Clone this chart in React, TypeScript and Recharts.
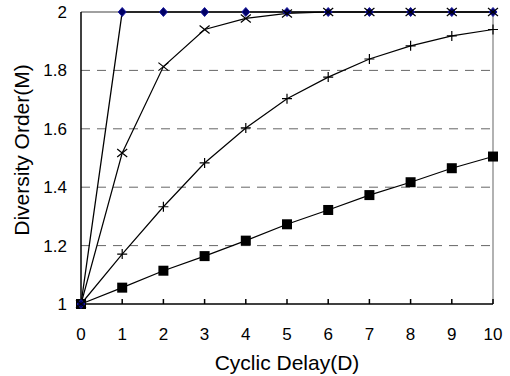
import { LineChart, Line, XAxis, YAxis, ReferenceLine, Label } from "recharts";

const delays = [0, 1, 2, 3, 4, 5, 6, 7, 8, 9, 10];
const diamondSeries = [1, 2, 2, 2, 2, 2, 2, 2, 2, 2, 2];
const crossSeries = [1, 1.517, 1.813, 1.94, 1.978, 1.995, 2, 2, 2, 2, 2];
const plusSeries = [1, 1.171, 1.333, 1.483, 1.603, 1.703, 1.777, 1.839, 1.884, 1.918, 1.94];
const squareSeries = [1, 1.056, 1.114, 1.164, 1.217, 1.273, 1.322, 1.373, 1.417, 1.465, 1.505];
const yTicks = [1, 1.2, 1.4, 1.6, 1.8, 2];
const gridValues = [1.2, 1.4, 1.6, 1.8];

const data = delays.map((d, i) => ({
  d,
  diamond: diamondSeries[i],
  cross: crossSeries[i],
  plus: plusSeries[i],
  square: squareSeries[i],
}));

const FONT = "'Liberation Sans', Arial, sans-serif";

const DiamondDot = ({ cx, cy }: any) => (
  <path d={`M${cx},${cy - 4.5} L${cx + 4},${cy} L${cx},${cy + 4.5} L${cx - 4},${cy} Z`} fill="#000066" stroke="#1a1aa0" strokeWidth={1} />
);

const CrossDot = ({ cx, cy }: any) => (
  <path d={`M${cx - 5},${cy - 4} L${cx + 5},${cy + 4} M${cx - 5},${cy + 4} L${cx + 5},${cy - 4}`} stroke="#000" strokeWidth={1.2} fill="none" />
);

const PlusDot = ({ cx, cy }: any) => (
  <path d={`M${cx - 5},${cy} L${cx + 5},${cy} M${cx},${cy - 5} L${cx},${cy + 5}`} stroke="#000" strokeWidth={1.2} fill="none" />
);

const SquareDot = ({ cx, cy }: any) => (
  <rect x={cx - 5} y={cy - 5} width={10} height={10} fill="#000" />
);

const YLabel = ({ viewBox }: any) => {
  const x = viewBox.x + 21;
  const y = viewBox.y + viewBox.height / 2 - 8;
  return (
    <text x={x} y={y} transform={`rotate(-90, ${x}, ${y})`} textAnchor="middle" dominantBaseline="central" fontFamily={FONT} fontSize={21} fill="#000">
      Diversity Order(M)
    </text>
  );
};

export default function App() {
  return (
    <div style={{ position: "absolute", left: 0, top: 0, background: "#fff" }}>
      <LineChart width={510} height={376} data={data} margin={{ top: 12, right: 17, left: 0, bottom: 0 }}>
        <XAxis
          dataKey="d"
          type="number"
          domain={[0, 10]}
          ticks={delays}
          height={72}
          stroke="#000"
          strokeWidth={1.5}
          tickSize={-5}
          tickMargin={29}
          tick={{ fill: "#000", fontSize: 17, fontFamily: FONT }}
        >
          <Label value="Cyclic Delay(D)" position="insideBottom" offset={6} style={{ fill: "#000", fontSize: 21, fontFamily: FONT }} />
        </XAxis>
        <YAxis
          type="number"
          domain={[1, 2]}
          ticks={yTicks}
          width={81}
          stroke="#000"
          strokeWidth={1.5}
          tickLine={false}
          tickMargin={8}
          tickFormatter={(v: number) => String(v)}
          tick={{ fill: "#000", fontSize: 17, fontFamily: FONT }}
        >
          <Label content={<YLabel />} />
        </YAxis>
        {gridValues.map((v) => (
          <ReferenceLine key={v} y={v} stroke="#666" strokeDasharray="9 7" />
        ))}
        <ReferenceLine y={2} stroke="#808080" strokeWidth={1.5} />
        <ReferenceLine x={10} stroke="#999" strokeWidth={1.5} />
        <Line dataKey="square" stroke="#000" strokeWidth={1.2} dot={<SquareDot />} isAnimationActive={false} />
        <Line dataKey="plus" stroke="#000" strokeWidth={1.2} dot={<PlusDot />} isAnimationActive={false} />
        <Line dataKey="diamond" stroke="#000" strokeWidth={1.3} dot={<DiamondDot />} isAnimationActive={false} />
        <Line dataKey="cross" stroke="#000" strokeWidth={1.2} dot={<CrossDot />} isAnimationActive={false} />
      </LineChart>
    </div>
  );
}
